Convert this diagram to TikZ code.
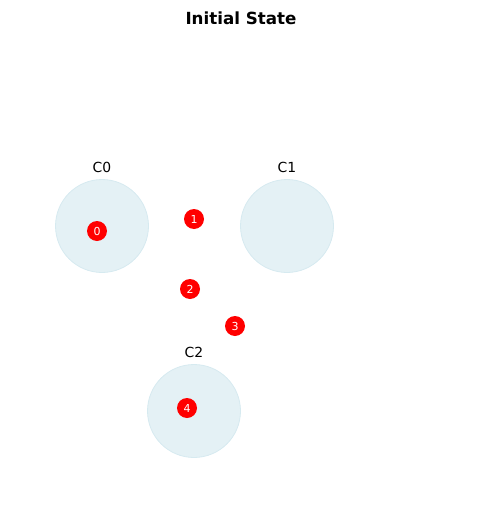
\documentclass[tikz,border=0pt]{standalone}
\usepackage{fontspec}
\setmainfont{DejaVu Sans}
\usepackage{xcolor}
\definecolor{zone}{RGB}{228,241,245}
\definecolor{zoneB}{RGB}{214,234,240}
\definecolor{pt}{RGB}{255,0,0}
\usetikzlibrary{positioning}

\begin{document}
\begin{tikzpicture}[x=1pt, y=-1pt,
  zone/.style={circle, draw=zoneB, fill=zone, line width=0.8pt, minimum size=93pt, inner sep=0pt},
  dot/.style={circle, fill=pt, minimum size=20pt, inner sep=0pt, text=white, font=\fontsize{11}{11}\selectfont},
  zlab/.style={font=\fontsize{13.9}{14}\selectfont, inner sep=0pt}]
\useasboundingbox (0,0) rectangle (481,514);
\node[font=\fontsize{16.7}{17}\selectfont\bfseries] (title) at (241,18) {Initial State};
% clusters
\node[zone] (c0) at (102,226) {};
\node[zone] (c1) at (287,226) {};
\node[zone] (c2) at (194,411) {};
\node[zlab, above=6pt of c0] (l0) {C0};
\node[zlab, above=6pt of c1] (l1) {C1};
\node[zlab, above=6pt of c2] (l2) {C2};
% points
\node[dot] (p0) at (97,231) {0};
\node[dot] (p1) at (194,219) {1};
\node[dot] (p2) at (190,289) {2};
\node[dot] (p3) at (235,326) {3};
\node[dot] (p4) at (187,408) {4};
\end{tikzpicture}
\end{document}
